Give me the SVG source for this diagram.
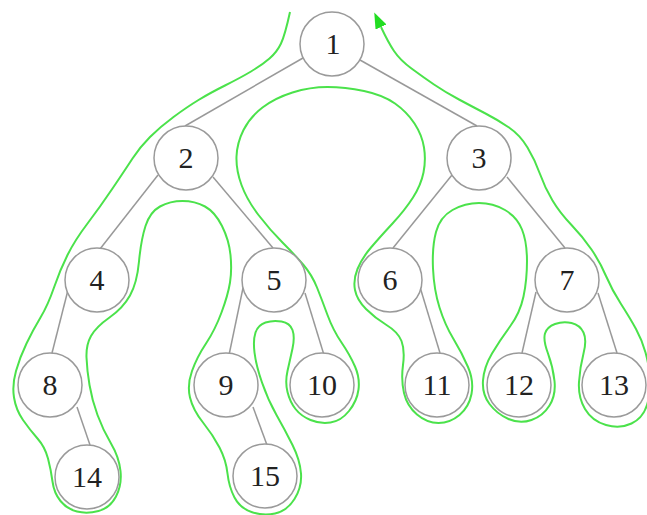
<svg xmlns="http://www.w3.org/2000/svg" width="647" height="515" viewBox="0 0 647 515">
<style>
.n circle{fill:#fff;stroke:#9a9a9a;stroke-width:1.5}
.n text{font-family:"Liberation Serif","Times New Roman",serif;font-size:30px;text-anchor:middle;fill:#222}
.e line{stroke:#999;stroke-width:1.5}
.tour{fill:none;stroke:#4be24b;stroke-width:2}
</style>
<defs>
<marker id="ah" viewBox="0 0 16 12" refX="0" refY="6" markerWidth="16" markerHeight="12" markerUnits="userSpaceOnUse" orient="auto">
<path d="M0,0 L16,6 L0,12 z" fill="#22dd22"/>
</marker>
</defs>
<rect width="647" height="515" fill="#fff"/>
<g id="connectors">
<g class="e">
<line x1="303" y1="58" x2="185" y2="126"/>
<line x1="360" y1="60" x2="477" y2="126"/>
<line x1="158" y1="175" x2="100" y2="249"/>
<line x1="213" y1="177" x2="273" y2="248"/>
<line x1="452" y1="175" x2="393" y2="248"/>
<line x1="507" y1="177" x2="565" y2="248"/>
<line x1="68" y1="290" x2="52" y2="353"/>
<line x1="243" y1="288" x2="229" y2="355"/>
<line x1="305" y1="293" x2="324" y2="355"/>
<line x1="420" y1="287" x2="440" y2="353"/>
<line x1="536" y1="292" x2="522" y2="353"/>
<line x1="598" y1="293" x2="617" y2="353"/>
<line x1="77" y1="407" x2="90" y2="445"/>
<line x1="253" y1="407" x2="267" y2="445"/>
</g>
<path class="tour" marker-end="url(#ah)" d="M290,12 Q285,35 281,43.5 Q277,52 269.5,58.5 Q262,65 251,71.5 Q240,78 225,85.5 Q210,93 198.5,100 Q187,107 173.5,117 Q160,127 150,137 Q140,147 132.5,158.5 Q125,170 112.5,188.5 Q100,207 87.5,223.5 Q75,240 67.5,255 Q60,270 54,287.5 Q48,305 40.5,317.5 Q33,330 26.5,343.5 Q20,357 16,371 Q12,385 14,397.5 Q16,410 23,420 Q30,430 37.5,438.5 Q45,447 48,458.5 Q51,470 52.5,481.5 Q54,493 60.5,501 Q67,509 77,511.5 Q87,514 98.5,511 Q110,508 116,496.5 Q122,485 120.5,471 Q119,457 111,443.5 Q103,430 97.5,415 Q92,400 89.5,385 Q87,370 86.5,357.5 Q86,345 91,336 Q96,327 109.5,317.5 Q123,308 130,295.5 Q137,283 139,261.5 Q141,240 145.5,226 Q150,212 160,206.5 Q170,201 182.5,201 Q195,201 205,206.5 Q215,212 222,226 Q229,240 230.5,255 Q232,270 230,282.5 Q228,295 221.5,312.5 Q215,330 206,343.5 Q197,357 192,371 Q187,385 190,397.5 Q193,410 203,422.5 Q213,435 219.5,447.5 Q226,460 227.5,473.5 Q229,487 234.5,497.5 Q240,508 251.5,512 Q263,516 275,513.5 Q287,511 294.5,499 Q302,487 301,473.5 Q300,460 292.5,445 Q285,430 276.5,415 Q268,400 262,382.5 Q256,365 254.5,352.5 Q253,340 255.5,332.5 Q258,325 265.5,322.5 Q273,320 281.5,321.5 Q290,323 292.5,330 Q295,337 292.5,348.5 Q290,360 287.5,371 Q285,382 287.5,392 Q290,402 295.5,409 Q301,416 310.5,420 Q320,424 330.5,422.5 Q341,421 349,411 Q357,401 358.5,389.5 Q360,378 355,366.5 Q350,355 341.5,342.5 Q333,330 327.5,315 Q322,300 317,287.5 Q312,275 303.5,265 Q295,255 282.5,242.5 Q270,230 258.5,215 Q247,200 241.5,185 Q236,170 236.5,156.5 Q237,143 243.5,130 Q250,117 262.5,107.5 Q275,98 292.5,92.5 Q310,87 327.5,87 Q345,87 364,91 Q383,95 395,103.5 Q407,112 414.5,123.5 Q422,135 424,147.5 Q426,160 423.5,172.5 Q421,185 413,197.5 Q405,210 392.5,223.5 Q380,237 371,247.5 Q362,258 357.5,269 Q353,280 355,290 Q357,300 366,309 Q375,318 386.5,325 Q398,332 401.5,341 Q405,350 403,365 Q401,380 404,393 Q407,406 417,414.5 Q427,423 438.5,423 Q450,423 459.5,415 Q469,407 471.5,394 Q474,381 468,367 Q462,353 453.5,339 Q445,325 439.5,307.5 Q434,290 433,268.5 Q432,247 436,232 Q440,217 452.5,210 Q465,203 479,203 Q493,203 505,210 Q517,217 522,229.5 Q527,242 527,261 Q527,280 523.5,296.5 Q520,313 510,326.5 Q500,340 492,353.5 Q484,367 483,380.5 Q482,394 489.5,404 Q497,414 508.5,419 Q520,424 531.5,420 Q543,416 549.5,405.5 Q556,395 554.5,381 Q553,367 548,353.5 Q543,340 545,333.5 Q547,327 555,324 Q563,321 571.5,323 Q580,325 583.5,332.5 Q587,340 583.5,353.5 Q580,367 579,382 Q578,397 585,409 Q592,421 606,425 Q620,429 631.5,423.5 Q643,418 647,405 Q651,392 650,378.5 Q649,365 645.5,352.5 Q642,340 636,329 Q630,318 621,304 Q612,290 606,276 Q600,262 591.5,249.5 Q583,237 571.5,225 Q560,213 552.5,200.5 Q545,188 540,174 Q535,160 527.5,147.5 Q520,135 509,127.5 Q498,120 485.5,113.5 Q473,107 459,99.5 Q445,92 434,84.5 Q423,77 411.5,68.5 Q400,60 394,51 Q388,42 381,27"/>
</g>
<g id="node1" class="n"><circle cx="332" cy="44" r="32"/><text x="333" y="54">1</text></g>
<g id="node2" class="n"><circle cx="186" cy="158" r="32"/><text x="186" y="168">2</text></g>
<g id="node3" class="n"><circle cx="479" cy="158" r="32"/><text x="479" y="168">3</text></g>
<g id="node4" class="n"><circle cx="97" cy="280" r="32"/><text x="97" y="290">4</text></g>
<g id="node5" class="n"><circle cx="274" cy="280" r="32"/><text x="274" y="290">5</text></g>
<g id="node6" class="n"><circle cx="390" cy="280" r="32"/><text x="390" y="290">6</text></g>
<g id="node7" class="n"><circle cx="567" cy="280" r="32"/><text x="567" y="290">7</text></g>
<g id="node8" class="n"><circle cx="50" cy="385" r="32"/><text x="50" y="395">8</text></g>
<g id="node9" class="n"><circle cx="226" cy="385" r="32"/><text x="226" y="395">9</text></g>
<g id="node10" class="n"><circle cx="322" cy="385" r="32"/><text x="322" y="395">10</text></g>
<g id="node11" class="n"><circle cx="437" cy="385" r="32"/><text x="437" y="395">11</text></g>
<g id="node12" class="n"><circle cx="519" cy="385" r="32"/><text x="519" y="395">12</text></g>
<g id="node13" class="n"><circle cx="614" cy="385" r="32"/><text x="614" y="395">13</text></g>
<g id="node14" class="n"><circle cx="87" cy="477" r="32"/><text x="87" y="487">14</text></g>
<g id="node15" class="n"><circle cx="265" cy="476" r="32"/><text x="265" y="486">15</text></g>
</svg>
